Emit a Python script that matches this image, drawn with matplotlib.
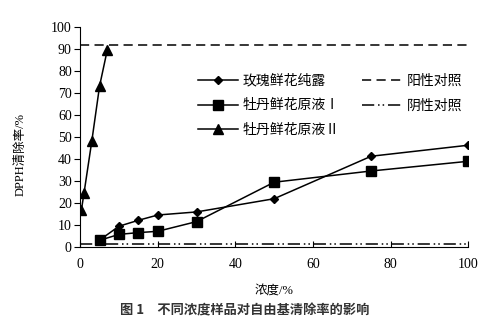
import numpy as np
import matplotlib.pyplot as plt

plt.rcParams['font.family'] = ['Liberation Serif', 'Noto Sans CJK SC']
plt.rcParams['font.size'] = 10

# 浓度 (%) 与 DPPH 清除率 (%)
rose_x = [5, 10, 15, 20, 30, 50, 75, 100]
rose_y = [3.0, 9.3, 12.0, 14.4, 15.8, 21.8, 41.1, 46.1]

peony1_x = [5, 10, 15, 20, 30, 50, 75, 100]
peony1_y = [2.9, 5.6, 6.4, 7.0, 11.4, 29.3, 34.4, 38.8]

peony2_x = [0.3, 1, 3, 5, 7]
peony2_y = [16.5, 24.5, 48.0, 73.0, 89.5]

ctrl_x = [0, 100]
pos_ctrl = 91.5
neg_ctrl = 1.2

labels = ['玫瑰鲜花纯露', '牡丹鲜花原液Ⅰ', '牡丹鲜花原液Ⅱ', '阳性对照', '阴性对照']

fig = plt.figure(figsize=(4.98, 3.30), dpi=100)
ax = fig.add_axes([0.161, 0.2524, 0.779, 0.667])

lw = 1.1
ax.plot(rose_x, rose_y, color='black', lw=lw, marker='D', ms=4.5, label=labels[0])
ax.plot(peony1_x, peony1_y, color='black', lw=lw, marker='s', ms=6.5, label=labels[1])
ax.plot(peony2_x, peony2_y, color='black', lw=lw, marker='^', ms=6.5, label=labels[2])
ax.plot(ctrl_x, [pos_ctrl, pos_ctrl], color='black', lw=lw, dashes=(6, 3.5), label=labels[3])
ax.plot(ctrl_x, [neg_ctrl, neg_ctrl], color='black', lw=lw,
        dashes=(8, 2.5, 1, 2, 1, 2.5), label=labels[4])

ax.set_xlim(0, 100)
ax.set_ylim(0, 100)
ax.set_xticks(np.arange(0, 101, 20))
ax.set_yticks(np.arange(0, 101, 10))
ax.spines['top'].set_visible(False)
ax.spines['right'].set_visible(False)
ax.spines['left'].set_linewidth(0.8)
ax.spines['bottom'].set_linewidth(0.8)
ax.tick_params(axis='y', direction='out', length=4, width=0.8, pad=2)
ax.tick_params(axis='x', direction='in', length=4, width=0.8, pad=8)

ax.set_xlabel('浓度/%', fontsize=9, labelpad=10)
ax.set_ylabel('DPPH清除率/%', fontsize=9)
ax.yaxis.set_label_coords(-0.137, 0.417)

ax.legend(ncol=2, frameon=False, loc='upper left', bbox_to_anchor=(0.272, 0.842),
          handlelength=2.9, handletextpad=0.3, columnspacing=1.6,
          labelspacing=0.85, fontsize=10)

fig.text(0.492, 0.06, '图 1\u3000不同浓度样品对自由基清除率的影响', ha='center', va='center',
         fontsize=9.5, fontweight='bold', color='#333333', family='Noto Sans CJK SC')

fig.savefig('out.png', dpi=100)
